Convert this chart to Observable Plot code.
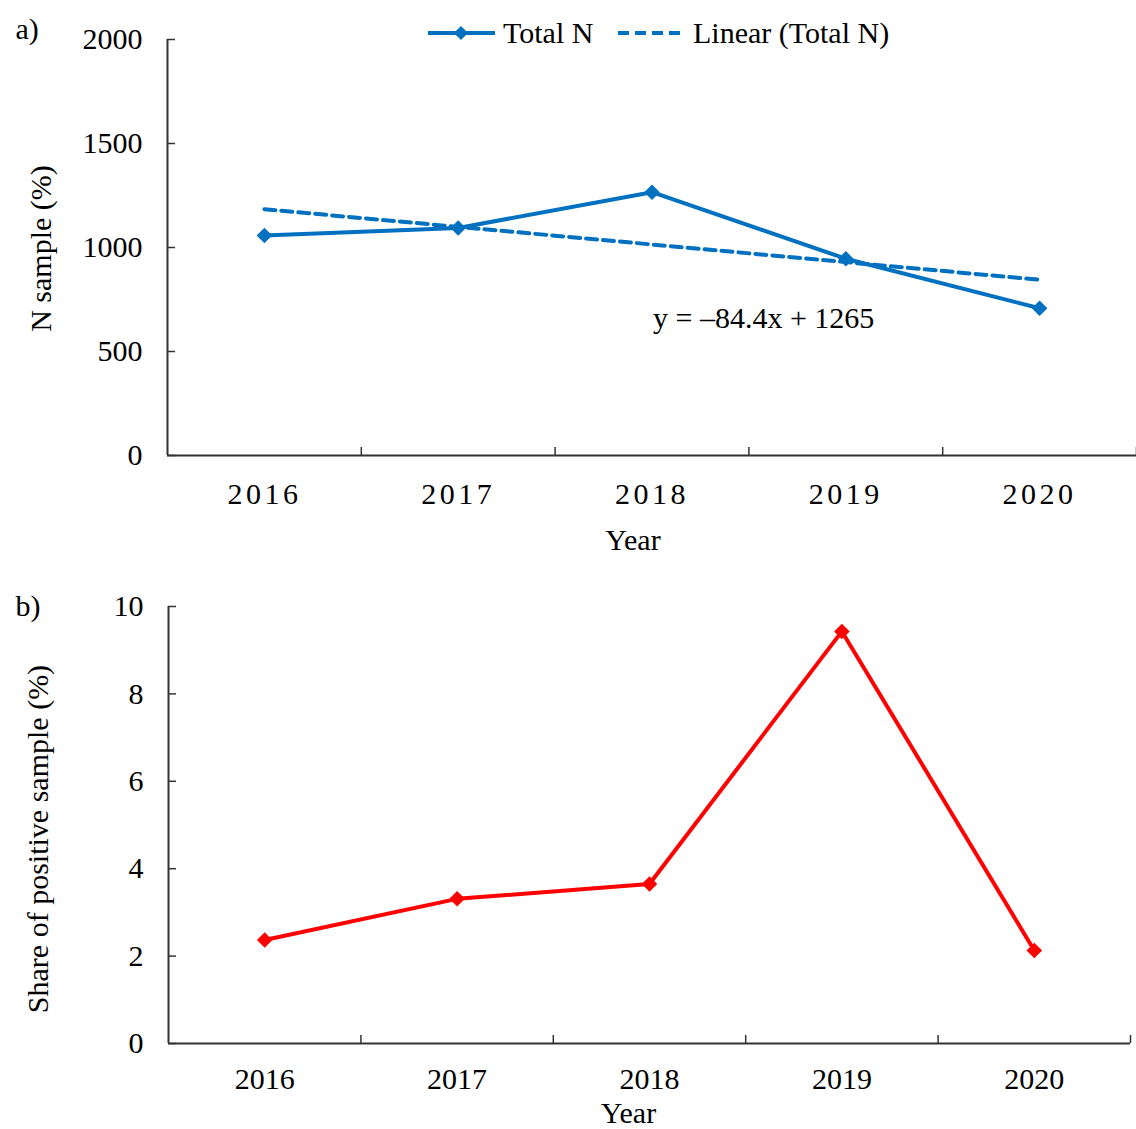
<!DOCTYPE html>
<html>
<head>
<meta charset="utf-8">
<script src="https://cdn.jsdelivr.net/npm/d3@7"></script>
<script src="https://cdn.jsdelivr.net/npm/@observablehq/plot@0.6"></script>
<style>
  html, body { margin: 0; padding: 0; background: #fff; }
  #wrap { position: relative; width: 1136px; height: 1129px; overflow: hidden; font-family: 'Liberation Serif', 'Times New Roman', serif; }
  #wrap svg { position: absolute; left: 0; overflow: visible; }
  #panelA g[aria-label="x-axis tick label"] text { letter-spacing: 3.5px; }
  .leg { position: absolute; font-size: 30px; line-height: 30px; color: #000; white-space: nowrap; }
</style>
</head>
<body>
<div id="wrap"></div>
<script>
// ---- data ----
const years = ["2016", "2017", "2018", "2019", "2020"];
const totalN = [1058, 1094, 1266, 946, 708];
const positiveShare = [2.37, 3.31, 3.65, 9.43, 2.13];
const yTicksA = [0, 500, 1000, 1500, 2000];
const yTicksB = [0, 2, 4, 6, 8, 10];
const equationLabel = "y = \u201384.4x + 1265";

const BLUE = "#0070C0";
const RED = "#FF0000";
const AXIS = "#333";
const FONT = "'Liberation Serif', 'Times New Roman', serif";

const rowsA = years.map((y, i) => ({pos: i + 0.5, year: y, value: totalN[i]}));
const rowsB = years.map((y, i) => ({pos: i + 0.5, year: y, value: positiveShare[i]}));
const centers = years.map((y, i) => i + 0.5);
const bounds = years.map((y, i) => i + 1);
const yearAt = d => years[Math.round(d - 0.5)];

function axes(yTicks, xPad) {
  return [
    Plot.axisY(yTicks, {anchor: "left", tickSize: 0, tickPadding: 25, tickFormat: d => String(d), label: null, fontSize: 30}),
    Plot.axisY(yTicks, {anchor: "left", tickSize: -8, tickFormat: () => "", label: null, stroke: AXIS, strokeWidth: 1.5}),
    Plot.axisX(centers, {anchor: "bottom", tickSize: 0, tickPadding: xPad, tickFormat: yearAt, label: null, fontSize: 30}),
    Plot.axisX(bounds, {anchor: "bottom", tickSize: -8, tickFormat: () => "", label: null, stroke: AXIS, strokeWidth: 1.5}),
    Plot.ruleX([0], {stroke: AXIS, strokeWidth: 2}),
    Plot.ruleY([0], {stroke: AXIS, strokeWidth: 2})
  ];
}

const wrap = document.getElementById("wrap");

// ---- panel a ----
const plotA = Plot.plot({
  width: 1136, height: 560,
  marginLeft: 167, marginRight: 0, marginTop: 39, marginBottom: 105,
  style: {fontFamily: FONT, fontSize: "30px", color: "#000", background: "transparent"},
  x: {domain: [0, 5], label: null},
  y: {domain: [0, 2000], label: null},
  marks: [
    ...axes(yTicksA, 27),
    Plot.linearRegressionY(rowsA, {x: "pos", y: "value", ci: 0, stroke: BLUE, strokeWidth: 4, strokeDasharray: "11,6"}),
    Plot.line(rowsA, {x: "pos", y: "value", stroke: BLUE, strokeWidth: 4}),
    Plot.dot(rowsA, {x: "pos", y: "value", symbol: "diamond2", r: 7, fill: BLUE, stroke: null}),
    Plot.text([equationLabel], {x: 2.505, y: 659, textAnchor: "start", lineAnchor: "middle", fontSize: 30, fill: "#000"}),
    Plot.text(["N sample (%)"], {frameAnchor: "left", rotate: -90, dx: -126, dy: 1, lineAnchor: "middle", textAnchor: "middle", fontSize: 30}),
    Plot.text(["Year"], {frameAnchor: "bottom", dx: -19, dy: 85, lineAnchor: "middle", textAnchor: "middle", fontSize: 30}),
    Plot.text(["a)"], {frameAnchor: "top-left", dx: -152, dy: -10, lineAnchor: "middle", textAnchor: "start", fontSize: 30})
  ]
});
plotA.id = "panelA";
plotA.style.top = "0px";
wrap.appendChild(plotA);

// ---- panel b ----
const plotB = Plot.plot({
  width: 1136, height: 569,
  marginLeft: 168, marginRight: 6, marginTop: 46, marginBottom: 86,
  style: {fontFamily: FONT, fontSize: "30px", color: "#000", background: "transparent"},
  x: {domain: [0, 5], label: null},
  y: {domain: [0, 10], label: null},
  marks: [
    ...axes(yTicksB, 24),
    Plot.line(rowsB, {x: "pos", y: "value", stroke: RED, strokeWidth: 4}),
    Plot.dot(rowsB, {x: "pos", y: "value", symbol: "diamond2", r: 7, fill: RED, stroke: null}),
    Plot.text(["Share of positive sample (%)"], {frameAnchor: "left", rotate: -90, dx: -130, dy: 14, lineAnchor: "middle", textAnchor: "middle", fontSize: 30}),
    Plot.text(["Year"], {frameAnchor: "bottom", dx: -21, dy: 70, lineAnchor: "middle", textAnchor: "middle", fontSize: 30}),
    Plot.text(["b)"], {frameAnchor: "top-left", dx: -153, dy: 0, lineAnchor: "middle", textAnchor: "start", fontSize: 30})
  ]
});
plotB.style.top = "560px";
wrap.appendChild(plotB);

// ---- legend (panel a) ----
function el(css, text) {
  const d = document.createElement("div");
  d.className = "leg";
  Object.assign(d.style, css);
  if (text) d.textContent = text;
  wrap.appendChild(d);
  return d;
}
el({left: "428px", top: "31px", width: "67px", height: "4px", background: BLUE});
el({left: "456px", top: "28px", width: "10px", height: "10px", background: BLUE, transform: "rotate(45deg)"});
el({left: "503px", top: "18px"}, "Total N");
el({left: "618px", top: "31px", width: "68px", height: "4px",
    background: `repeating-linear-gradient(to right, ${BLUE} 0 11px, transparent 11px 17px)`});
el({left: "693px", top: "18px"}, "Linear (Total N)");
</script>
</body>
</html>
